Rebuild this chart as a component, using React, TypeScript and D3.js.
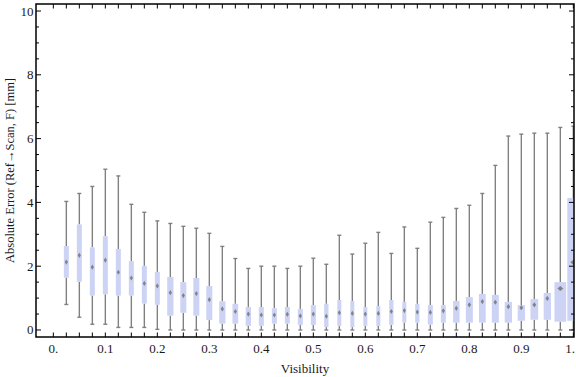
import React from 'react';
import * as d3 from 'd3';

const visibility = [0.025, 0.05, 0.075, 0.1, 0.125, 0.15, 0.175, 0.2, 0.225, 0.25, 0.275, 0.3, 0.325, 0.35, 0.375, 0.4, 0.425, 0.45, 0.475, 0.5, 0.525, 0.55, 0.575, 0.6, 0.625, 0.65, 0.675, 0.7, 0.725, 0.75, 0.775, 0.8, 0.825, 0.85, 0.875, 0.9, 0.925, 0.95, 0.975, 1.0];
const maxVals = [4.03, 4.28, 4.50, 5.04, 4.83, 3.94, 3.69, 3.42, 3.34, 3.25, 3.19, 3.03, 2.62, 2.24, 1.93, 2.00, 2.00, 1.93, 2.00, 2.25, 2.06, 2.97, 2.38, 2.72, 3.06, 2.40, 3.23, 2.56, 3.38, 3.53, 3.81, 3.91, 4.28, 5.16, 6.08, 6.14, 6.17, 6.17, 6.35, 6.39];
const q3Vals = [2.63, 3.31, 2.59, 2.94, 2.54, 2.16, 2.01, 1.82, 1.66, 1.50, 1.63, 1.38, 0.90, 0.82, 0.72, 0.72, 0.68, 0.72, 0.66, 0.78, 0.82, 0.94, 0.91, 0.72, 0.75, 0.94, 0.88, 0.82, 0.78, 0.78, 0.91, 1.03, 1.13, 1.10, 0.88, 0.78, 0.97, 1.16, 1.50, 4.14];
const medianVals = [2.13, 2.34, 1.97, 2.19, 1.81, 1.63, 1.46, 1.38, 1.17, 1.08, 1.14, 0.95, 0.66, 0.58, 0.50, 0.47, 0.47, 0.49, 0.44, 0.50, 0.43, 0.54, 0.52, 0.50, 0.52, 0.58, 0.61, 0.56, 0.55, 0.60, 0.68, 0.79, 0.89, 0.87, 0.73, 0.70, 0.79, 0.99, 1.30, 2.12];
const q1Vals = [1.64, 1.51, 1.08, 1.12, 1.08, 1.08, 0.83, 0.79, 0.45, 0.54, 0.45, 0.31, 0.20, 0.20, 0.13, 0.13, 0.20, 0.20, 0.16, 0.16, 0.09, 0.13, 0.09, 0.13, 0.13, 0.16, 0.23, 0.23, 0.17, 0.23, 0.23, 0.23, 0.23, 0.23, 0.23, 0.29, 0.32, 0.32, 0.26, 0.29];
const minVals = [0.80, 0.40, 0.18, 0.18, 0.08, 0.08, 0.08, 0.02, 0, 0, 0, 0, 0, 0, 0, 0, 0, 0, 0, 0, 0, 0, 0, 0, 0, 0, 0, 0, 0, 0, 0, 0, 0, 0, 0, 0, 0, 0, 0, 0];
// relative box width (bin weight)
const relWidth = [1, 1, 1, 1, 1, 1, 1, 1, 1.26, 1.2, 1.2, 1.2, 1.24, 1.14, 1.06, 1, 1, 1, 1, 1, 0.86, 0.8, 0.8, 0.8, 0.8, 0.86, 0.8, 0.86, 1, 1, 1.3, 1.4, 1.36, 1.4, 1.46, 1.46, 1.54, 1.46, 2.34, 2.4];

const xTickLabels = ['0.', '0.1', '0.2', '0.3', '0.4', '0.5', '0.6', '0.7', '0.8', '0.9', '1.'];
const xTickValues = [0, 0.1, 0.2, 0.3, 0.4, 0.5, 0.6, 0.7, 0.8, 0.9, 1.0];
const yTickValues = [0, 2, 4, 6, 8, 10];

const W = 576, H = 377;
const L = 36, R = 574, T = 4, B = 337;

export default function App() {
  const x = d3.scaleLinear().domain([-1 / 30, 1.0013]).range([L, R]);
  const y = d3.scaleLinear().domain([-0.22, 10.22]).range([B, T]);
  const baseW = 0.0096; // data units for relWidth 1
  const minorX = d3.range(0, 41).map(i => i * 0.025);
  const minorY = d3.range(0, 21).map(i => i * 0.5);
  const font = '"Liberation Serif", "DejaVu Serif", serif';
  const boxColor = '#ccd3f5';
  const whiskerColor = '#808080';

  return (
    <svg width={W} height={H} style={{ position: 'absolute', left: 0, top: 0 }} xmlns="http://www.w3.org/2000/svg">
      <rect x={0} y={0} width={W} height={H} fill="#fff" />
      <defs>
        <clipPath id="plotClip">
          <rect x={L} y={T} width={R - L} height={B - T} />
        </clipPath>
      </defs>
      <g clipPath="url(#plotClip)">
        {visibility.map((v, i) => {
          const cx = x(v);
          const cap = 2;
          return (
            <g key={'w' + i} stroke={whiskerColor} strokeWidth={1.4}>
              <line x1={cx} x2={cx} y1={y(maxVals[i])} y2={y(q3Vals[i])} />
              <line x1={cx} x2={cx} y1={y(q1Vals[i])} y2={y(minVals[i])} />
              <line x1={cx - cap} x2={cx + cap} y1={y(maxVals[i])} y2={y(maxVals[i])} />
              <line x1={cx - cap} x2={cx + cap} y1={y(minVals[i])} y2={y(minVals[i])} />
            </g>
          );
        })}
        {visibility.map((v, i) => {
          const bw = x(v + (relWidth[i] * baseW) / 2) - x(v - (relWidth[i] * baseW) / 2);
          return (
            <rect key={'b' + i} x={x(v) - bw / 2} width={bw} y={y(q3Vals[i])} height={y(q1Vals[i]) - y(q3Vals[i])} fill={boxColor} />
          );
        })}
        {visibility.map((v, i) => {
          const cx = x(v);
          const cy = y(medianVals[i]);
          const bw = x(v + (relWidth[i] * baseW) / 2) - x(v - (relWidth[i] * baseW) / 2);
          const hw = Math.max(1.6, bw * 0.25);
          const hh = 2.6;
          return (
            <path key={'m' + i} d={`M${cx},${cy - hh}L${cx + hw},${cy}L${cx},${cy + hh}L${cx - hw},${cy}Z`} fill="#7a7a7a" opacity={0.9} />
          );
        })}
      </g>
      {/* ticks */}
      <g stroke="#000" strokeWidth={1}>
        {minorX.map((t, i) => (
          <g key={'xt' + i}>
            <line x1={x(t)} x2={x(t)} y1={B} y2={B - 4.5} />
            <line x1={x(t)} x2={x(t)} y1={T} y2={T + 4.5} />
          </g>
        ))}
        {minorY.map((t, i) => {
          const major = Math.abs(t % 2) < 1e-9;
          const len = major ? 5 : 3;
          return (
            <g key={'yt' + i}>
              <line x1={L} x2={L + len} y1={y(t)} y2={y(t)} />
              <line x1={R} x2={R - len} y1={y(t)} y2={y(t)} />
            </g>
          );
        })}
      </g>
      <rect x={L} y={T} width={R - L} height={B - T} fill="none" stroke="#000" strokeWidth={1.5} />
      <g fontFamily={font} fontSize={13} fill="#1a1a1a">
        {xTickValues.map((t, i) => {
          const last = i === xTickValues.length - 1;
          return (
            <text key={'xl' + i} x={last ? 575 : x(t)} y={353} textAnchor={last ? 'end' : 'middle'}>{xTickLabels[i]}</text>
          );
        })}
        {yTickValues.map((t, i) => (
          <text key={'yl' + i} x={33.5} y={y(t) + 4.5} textAnchor="end">{String(t)}</text>
        ))}
        <text x={(L + R) / 2} y={373} textAnchor="middle" fontSize={13}>Visibility</text>
        <text transform={`translate(14,${(T + B) / 2}) rotate(-90)`} textAnchor="middle" fontSize={12.5}>Absolute Error (Ref→Scan, F) [mm]</text>
      </g>
    </svg>
  );
}
